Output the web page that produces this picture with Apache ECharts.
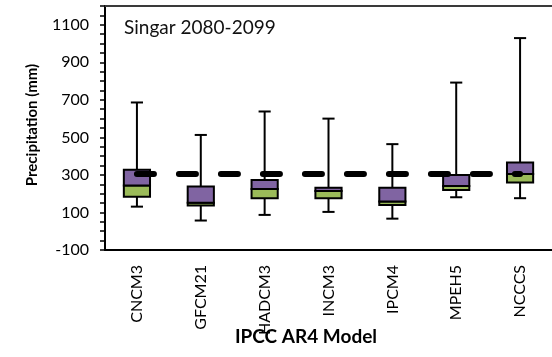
<!DOCTYPE html>
<html>
<head>
<meta charset="utf-8">
<script src="https://cdn.jsdelivr.net/npm/echarts@6/dist/echarts.min.js"></script>
<style>
  html, body { margin: 0; padding: 0; background: #fff; }
  #chart { width: 552px; height: 357px; }
</style>
</head>
<body>
<div id="chart"></div>
<script>
// Precipitation spread per IPCC AR4 model, Singar 2080-2099
const models = ['CNCM3', 'GFCM21', 'HADCM3', 'INCM3', 'IPCM4', 'MPEH5', 'NCCCS'];
const minVals = [131, 57, 87, 103, 67, 181, 176];
const q1Vals = [184, 137, 176, 176, 140, 220, 259];
const medianVals = [243, 152, 225, 215, 158, 241, 305];
const q3Vals = [327, 238, 273, 231, 232, 300, 366];
const maxVals = [686, 513, 638, 600, 464, 792, 1029];
const baselineValue = 305;
const yMin = -100;
const yMax = 1200;
const yLabelStep = 200;
const yTickStep = 50;

const FONT = 'Lato, "Noto Sans", sans-serif';
const PURPLE = '#8064A2';
const GREEN = '#9BBB59';

const boxData = models.map((m, i) => [i, minVals[i], q1Vals[i], medianVals[i], q3Vals[i], maxVals[i]]);
const baselineData = models.map(() => baselineValue);

function renderBox(params, api) {
  const i = api.value(0);
  const pMin = api.coord([i, api.value(1)]);
  const pQ1 = api.coord([i, api.value(2)]);
  const pMed = api.coord([i, api.value(3)]);
  const pQ3 = api.coord([i, api.value(4)]);
  const pMax = api.coord([i, api.value(5)]);
  const band = api.size([1, 0])[0];
  const boxW = band * 0.41;
  const capW = band * 0.19;
  const x = pMed[0];
  const stroke = { stroke: '#000', lineWidth: 2 };
  return {
    type: 'group',
    children: [
      { type: 'line', shape: { x1: x, y1: pMax[1], x2: x, y2: pQ3[1] }, style: stroke },
      { type: 'line', shape: { x1: x, y1: pMin[1], x2: x, y2: pQ1[1] }, style: stroke },
      { type: 'line', shape: { x1: x - capW / 2, y1: pMax[1], x2: x + capW / 2, y2: pMax[1] }, style: stroke },
      { type: 'line', shape: { x1: x - capW / 2, y1: pMin[1], x2: x + capW / 2, y2: pMin[1] }, style: stroke },
      { type: 'rect', shape: { x: x - boxW / 2, y: pMed[1], width: boxW, height: pQ1[1] - pMed[1] },
        style: { fill: GREEN, stroke: '#000', lineWidth: 2 } },
      { type: 'rect', shape: { x: x - boxW / 2, y: pQ3[1], width: boxW, height: pMed[1] - pQ3[1] },
        style: { fill: PURPLE, stroke: '#000', lineWidth: 2 } }
    ]
  };
}

const chart = echarts.init(document.getElementById('chart'), null, { renderer: 'canvas' });
chart.setOption({
  animation: false,
  backgroundColor: '#fff',
  grid: { left: 105, top: 6, width: 449, bottom: 107, containLabel: false },
  xAxis: [{
    type: 'category',
    data: models,
    boundaryGap: true,
    axisLine: { show: true, onZero: false, lineStyle: { color: '#000', width: 2 } },
    axisTick: { show: false },
    axisLabel: { rotate: 90, margin: 15, color: '#000', fontFamily: FONT, fontSize: 16 },
    splitLine: { show: false }
  }, {
    type: 'category',
    data: models,
    position: 'top',
    axisLine: { show: true, onZero: false, lineStyle: { color: '#3a3a3a', width: 2 } },
    axisTick: { show: false },
    axisLabel: { show: false },
    splitLine: { show: false }
  }],
  yAxis: {
    type: 'value',
    min: yMin,
    max: yMax,
    interval: yTickStep,
    axisLine: { show: true, onZero: false, lineStyle: { color: '#000', width: 2 } },
    axisTick: { show: true, inside: false, length: 5, lineStyle: { color: '#000', width: 1.5 } },
    axisLabel: {
      color: '#000', fontFamily: FONT, fontSize: 16, margin: 16,
      formatter: v => ((v - yMin) % yLabelStep === 0 && v < yMax) ? String(v) : ''
    },
    splitLine: { show: false }
  },
  graphic: [
    { type: 'text', left: 124, top: 18,
      style: { text: 'Singar 2080-2099', fontFamily: FONT, fontSize: 19, fill: '#111' } },
    { type: 'text', x: 32, y: 125, rotation: Math.PI / 2,
      style: { text: 'Precipitation (mm)', fontFamily: FONT, fontSize: 15, fontWeight: 'bold', fill: '#000',
               align: 'center', verticalAlign: 'middle' } },
    { type: 'text', x: 306, y: 337,
      style: { text: 'IPCC AR4 Model', fontFamily: FONT, fontSize: 19, fontWeight: 'bold', fill: '#000',
               align: 'center', verticalAlign: 'middle' } }
  ],
  series: [
    {
      type: 'custom',
      renderItem: renderBox,
      data: boxData,
      encode: { x: 0, y: [1, 2, 3, 4, 5] },
      z: 2
    },
    {
      type: 'line',
      data: baselineData,
      symbol: 'none',
      lineStyle: { color: '#000', width: 6, type: [17, 25], cap: 'round' },
      z: 5
    }
  ]
});
</script>
</body>
</html>
